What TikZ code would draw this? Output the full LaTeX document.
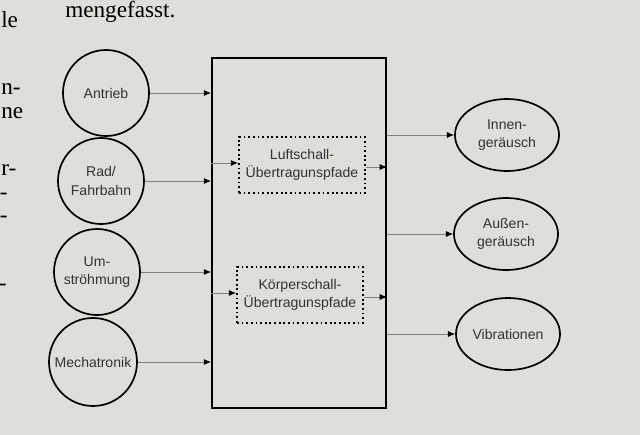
\documentclass[tikz,border=0pt]{standalone}
\usepackage{fontspec}
\usepackage{tikz}
\usetikzlibrary{shapes.geometric, arrows.meta, calc, backgrounds}
\newfontfamily\diafont{Liberation Sans}
\newfontfamily\pagefont{Liberation Serif}
\definecolor{screengray}{rgb}{0.87, 0.87, 0.86}
\definecolor{inkgray}{rgb}{0.2, 0.2, 0.2}

\begin{document}
\begin{tikzpicture}[x=0.025cm, y=-0.025cm,
    quelle/.style={circle, draw=black, line width=1.2pt, minimum size=2.15cm, inner sep=0pt,
        align=center, text=inkgray, font=\diafont\fontsize{10}{13}\selectfont},
    wirkung/.style={ellipse, draw=black, line width=1.2pt, minimum width=2.6cm, minimum height=1.8cm,
        inner sep=0pt, align=center, text=inkgray, font=\diafont\fontsize{10}{13}\selectfont},
    pfad/.style={rectangle, draw=black, dotted, line width=1.3pt, minimum width=3.15cm,
        minimum height=1.4cm, align=center, text=inkgray, font=\diafont\fontsize{10}{13}\selectfont},
    fluss/.style={draw=gray, line width=0.6pt, -{Latex[length=1.8mm, width=1.5mm, color=black]}},
    seite/.style={text=black, font=\pagefont\fontsize{16.5}{20}\selectfont, inner sep=0pt}]

% photographed page
\fill[screengray] (0,0) rectangle (640,435);
\useasboundingbox (0,0) rectangle (640,435);

% text of the page round the figure
\node[seite, anchor=base west] (satz) at (65,17) {mengefasst.};
\node[seite, anchor=base west] (rest1) at (1,27) {le};
\node[seite, anchor=base west] (rest2) at (1,94) {n-};
\node[seite, anchor=base west] (rest3) at (1,118) {ne};
\node[seite, anchor=base west] (rest4) at (1,175) {r-};
\node[seite, anchor=base east] (rest5) at (8,199) {-};
\node[seite, anchor=base east] (rest6) at (8,222) {-};
\node[seite, anchor=base east] (rest7) at (7,290) {-};

% system box
\node[rectangle, draw=black, line width=1.3pt, minimum width=4.35cm, minimum height=8.75cm] (system) at (299,233) {};

% sources
\node[quelle] (antrieb) at (106,93) {Antrieb};
\node[quelle] (rad) at (101,181) {Rad/\\Fahrbahn};
\node[quelle] (umstroem) at (97,272) {Um-\\ströhmung};
\node[quelle, minimum size=2.2cm] (mecha) at (93,362) {Mechatronik};

% transfer paths
\node[pfad] (luft) at (302,165) {Luftschall-\\Übertragunspfade};
\node[pfad] (koerper) at (300,295) {Körperschall-\\Übertragunspfade};

% effects
\node[wirkung] (innen) at (507,135) {Innen-\\geräusch};
\node[wirkung] (aussen) at (506,234) {Außen-\\geräusch};
\node[wirkung] (vib) at (508,334) {Vibrationen};

% connectors
\foreach \q in {antrieb, rad, umstroem, mecha}
    \draw[fluss] (\q.east) -- (\q.east -| system.west);
\foreach \p in {luft, koerper} {
    \draw[fluss] ($(\p.west -| system.west)+(0,-2)$) -- ($(\p.west)+(0,-2)$);
    \draw[fluss] ($(\p.east)+(0,2)$) -- ($(\p.east -| system.east)+(0,2)$);
}
\foreach \w in {innen, aussen, vib}
    \draw[fluss] (\w.west -| system.east) -- (\w.west);
\end{tikzpicture}
\end{document}
